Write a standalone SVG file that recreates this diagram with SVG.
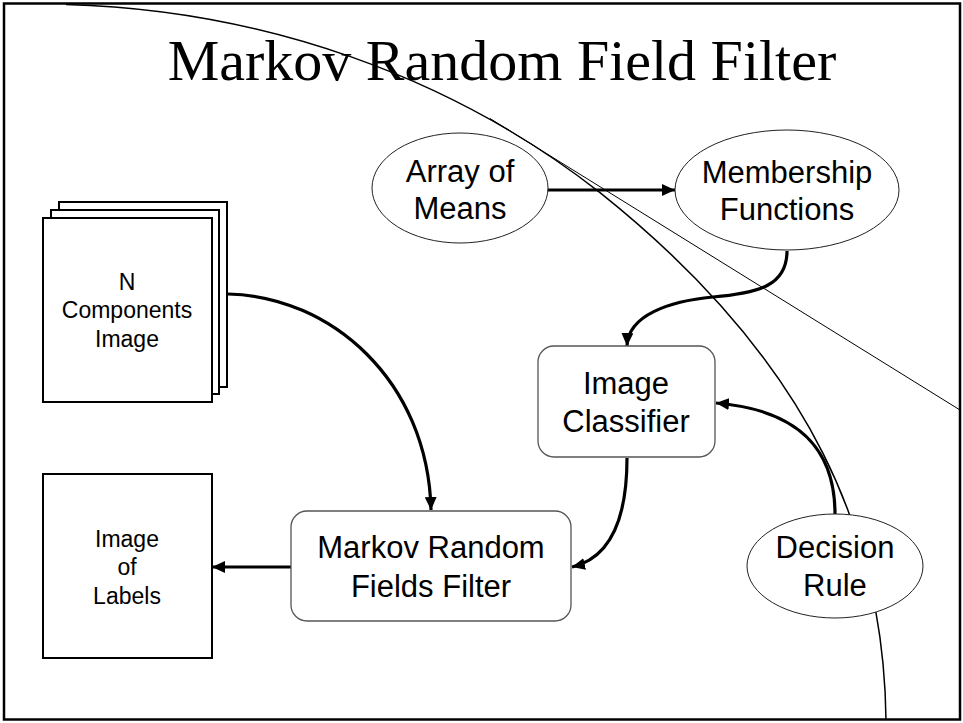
<svg xmlns="http://www.w3.org/2000/svg" width="963" height="723" viewBox="0 0 963 723">
<style>
.title{font-family:"Liberation Serif","Times New Roman",serif;font-size:58px;fill:#000}
.t{font-family:"Liberation Sans",Arial,sans-serif;font-size:31px;fill:#000;text-anchor:middle}
.s{font-family:"Liberation Sans",Arial,sans-serif;font-size:23px;fill:#000;text-anchor:middle}
.ell{fill:#fff;stroke:#222;stroke-width:1}
.rr{fill:#fff;stroke:#555;stroke-width:1.3}
.box{fill:#fff;stroke:#000;stroke-width:2}
.con{fill:none;stroke:#000;stroke-width:3.2}
.deco{fill:none;stroke:#000}
</style>
<defs>
<marker id="ah" markerUnits="userSpaceOnUse" markerWidth="14" markerHeight="12" viewBox="0 0 14 12" refX="13" refY="6" orient="auto">
<path d="M0,0 L13,6 L0,12 Z" fill="#000"/>
</marker>
</defs>
<rect x="0" y="0" width="963" height="723" fill="#fff"/>
<g id="decoration">
<path class="deco" stroke-width="1.5" d="M66,4.4 A852,766 0 0 1 600,192.6 C815,364 884,540 886,720"/>
<path class="deco" stroke-width="1" d="M490,118.5 L960,410"/>
</g>
<rect x="4" y="3.5" width="956" height="716" fill="none" stroke="#000" stroke-width="2.5"/>
<text class="title" x="502" y="80" text-anchor="middle">Markov Random Field Filter</text>
<g id="connectors">
<path class="con" marker-end="url(#ah)" d="M547,190 L675,190"/>
<path class="con" marker-end="url(#ah)" d="M787,251 C787,285 760,293 713,297 C670,301 628,315 627,346"/>
<path class="con" marker-end="url(#ah)" d="M228,294 C330,296 428,380 431,510"/>
<path class="con" marker-end="url(#ah)" d="M627,458 C627,520 610,558 572,567"/>
<path class="con" marker-end="url(#ah)" d="M835,514 C835,450 800,410 716,403"/>
<path class="con" marker-end="url(#ah)" d="M291,567 L212,567"/>
</g>
<g id="array-of-means">
<ellipse class="ell" cx="460" cy="188" rx="88" ry="55"/>
<text class="t" x="460" y="182">Array of</text>
<text class="t" x="460" y="219">Means</text>
</g>
<g id="membership-functions">
<ellipse class="ell" cx="787" cy="190" rx="112" ry="60"/>
<text class="t" x="787" y="183">Membership</text>
<text class="t" x="787" y="220">Functions</text>
</g>
<g id="image-classifier">
<rect class="rr" x="538" y="346" width="177" height="111" rx="16"/>
<text class="t" x="626" y="394">Image</text>
<text class="t" x="626" y="432">Classifier</text>
</g>
<g id="mrf-filter">
<rect class="rr" x="291" y="511" width="280" height="110" rx="16"/>
<text class="t" x="431" y="558">Markov Random</text>
<text class="t" x="431" y="597">Fields Filter</text>
</g>
<g id="decision-rule">
<ellipse class="ell" cx="835" cy="566" rx="88" ry="52"/>
<text class="t" x="835" y="558">Decision</text>
<text class="t" x="835" y="596">Rule</text>
</g>
<g id="n-components-image">
<rect class="box" x="59" y="202" width="168" height="185"/>
<rect class="box" x="51" y="210" width="168" height="184"/>
<rect class="box" x="43" y="218" width="169" height="184"/>
<text class="s" x="127" y="290">N</text>
<text class="s" x="127" y="318">Components</text>
<text class="s" x="127" y="347">Image</text>
</g>
<g id="image-of-labels">
<rect class="box" x="43" y="474" width="169" height="184"/>
<text class="s" x="127" y="547">Image</text>
<text class="s" x="127" y="575">of</text>
<text class="s" x="127" y="604">Labels</text>
</g>
</svg>
